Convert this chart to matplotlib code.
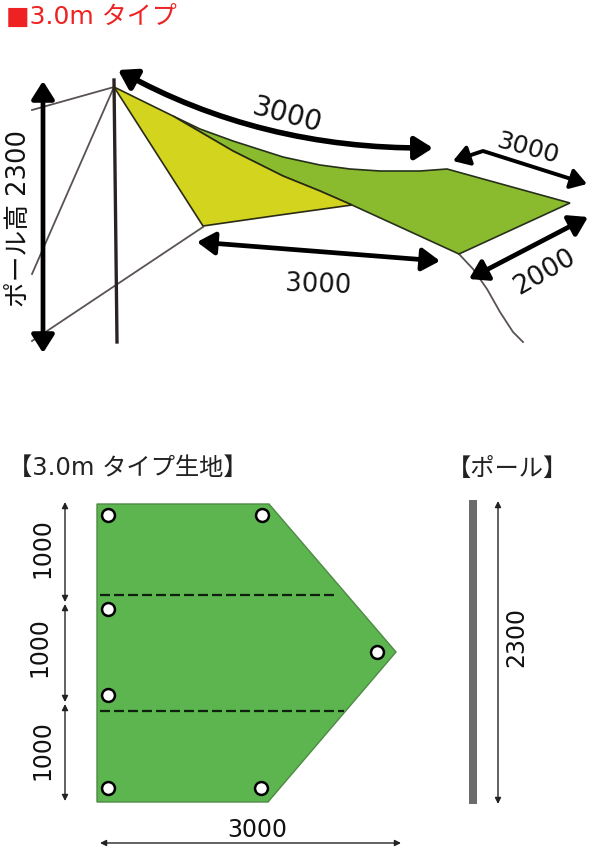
import matplotlib
matplotlib.use("Agg")
import matplotlib.pyplot as plt
from matplotlib.patches import FancyArrowPatch, Polygon, Rectangle
from matplotlib.path import Path

plt.rcParams['font.family'] = ['DejaVu Sans', 'Noto Sans CJK JP']

# tarp shapes, picture pixels
seam = [(173, 117), (233, 152), (283, 177), (320, 192), (352, 206)]
yellow_panel = [(114, 88)] + seam + [(280, 216), (203, 227)]
green_panel = [(173, 117), (200, 130), (233, 142), (283, 158), (320, 166), (350, 170), (380, 172),
               (420, 172), (447, 170), (570, 204), (459, 255), (352, 206), (320, 192), (283, 177),
               (233, 152)]
pole_line = [(114, 81), (117, 343)]
guy_lines = [
    [(114, 88), (32, 111)],
    [(114, 88), (32, 275)],
    [(203, 228), (32, 342)],
    [(459, 255), (473, 270), (487, 290), (500, 313), (513, 333), (523, 343)],
]

# fabric sheet
sheet = [(97, 505), (269, 505), (396, 653), (268, 803), (97, 803)]
eyelets_x = [108, 262, 108, 108, 108, 261, 377]
eyelets_y = [516, 516, 610, 696, 789, 789, 653]
fold_lines = [(100, 334, 595.5), (100, 344, 711.5)]

# dimension arrows: (start, end)
big_arrows = [((43, 82), (43, 354)), ((197, 243), (440, 262)), ((469, 280), (588, 218))]
thin_arrows = [((65, 503), (65, 603)), ((65, 605), (65, 703)), ((65, 705), (65, 802)),
               ((100, 844), (401, 844)), ((498, 502), (498, 805))]

# text, x, y, rotation, size
labels = [
    ("3000", 287, 115, -15, 20),
    ("3000", 528, 148, -15, 18),
    ("3000", 318, 285, -2, 18.5),
    ("2000", 545, 272, 30, 19),
    ("ポール高 2300", 19, 218, 90, 18.5),
    ("1000", 42, 548, 90, 17),
    ("1000", 39, 647, 90, 17),
    ("1000", 42, 750, 90, 17),
    ("3000", 257, 830, 0, 17),
    ("2300", 516, 637, 90, 17),
]
headers = [("【3.0m タイプ生地】", 128, 468), ("【ポール】", 507, 469)]

fig = plt.figure(figsize=(6.0, 8.53), dpi=100)
ax = fig.add_axes([0, 0, 1, 1])
ax.set_xlim(0, 600)
ax.set_ylim(853, 0)
ax.axis("off")

# top drawing
for line in guy_lines:
    ax.plot(*zip(*line), color="#5a5252", lw=1.3, zorder=1)
ax.plot(*zip(*pole_line), color="#2a2222", lw=2.4, zorder=2)
ax.add_patch(Polygon(green_panel, closed=True, fc="#8abb2e", ec="#26301a", lw=1.2, zorder=3))
ax.add_patch(Polygon(yellow_panel, closed=True, fc="#d2d41e", ec="#2b2b15", lw=1.2, zorder=4))

big_head = "<|-|>,head_length=0.6,head_width=0.38"
for a, b in big_arrows:
    ax.add_patch(FancyArrowPatch(a, b, arrowstyle=big_head, mutation_scale=18, lw=3.4,
                                 color="black", shrinkA=0, shrinkB=0, zorder=5))
curved = Path([(118, 71), (260, 150), (433, 149)], [Path.MOVETO, Path.CURVE3, Path.CURVE3])
ax.add_patch(FancyArrowPatch(path=curved, arrowstyle=big_head, mutation_scale=18, lw=4,
                             color="black", zorder=5))
kinked = Path([(453, 162), (483, 152), (587, 185)])
ax.add_patch(FancyArrowPatch(path=kinked, arrowstyle=big_head, mutation_scale=16, lw=2.8,
                             color="black", zorder=5))

# bottom drawing
ax.add_patch(Polygon(sheet, closed=True, fc="#5cb54f", ec="#4f8a45", lw=1, zorder=1))
for x0, x1, y in fold_lines:
    ax.plot([x0, x1], [y, y], color="#10200f", lw=1.6, ls=(0, (4.5, 1.8)), zorder=2)
ax.scatter(eyelets_x, eyelets_y, s=86, fc="white", ec="black", lw=1.8, zorder=3)
ax.add_patch(Rectangle((469, 501), 8, 304, fc="#6d6b6d", ec="none"))

for a, b in thin_arrows:
    ax.add_patch(FancyArrowPatch(a, b, arrowstyle="<|-|>", mutation_scale=9, lw=1,
                                 color="#222222", shrinkA=0, shrinkB=0, zorder=5))

ax.text(6, 17, "■3.0m タイプ", color="#ee2222", fontsize=18, ha="left", va="center")
for txt, x, y in headers:
    ax.text(x, y, txt, color="#222222", fontsize=17.5, ha="center", va="center")
for txt, x, y, rot, size in labels:
    ax.text(x, y, txt, color="#111111", fontsize=size, rotation=rot,
            rotation_mode="anchor", ha="center", va="center", zorder=6)

fig.savefig("out.png", dpi=100, facecolor="white")
